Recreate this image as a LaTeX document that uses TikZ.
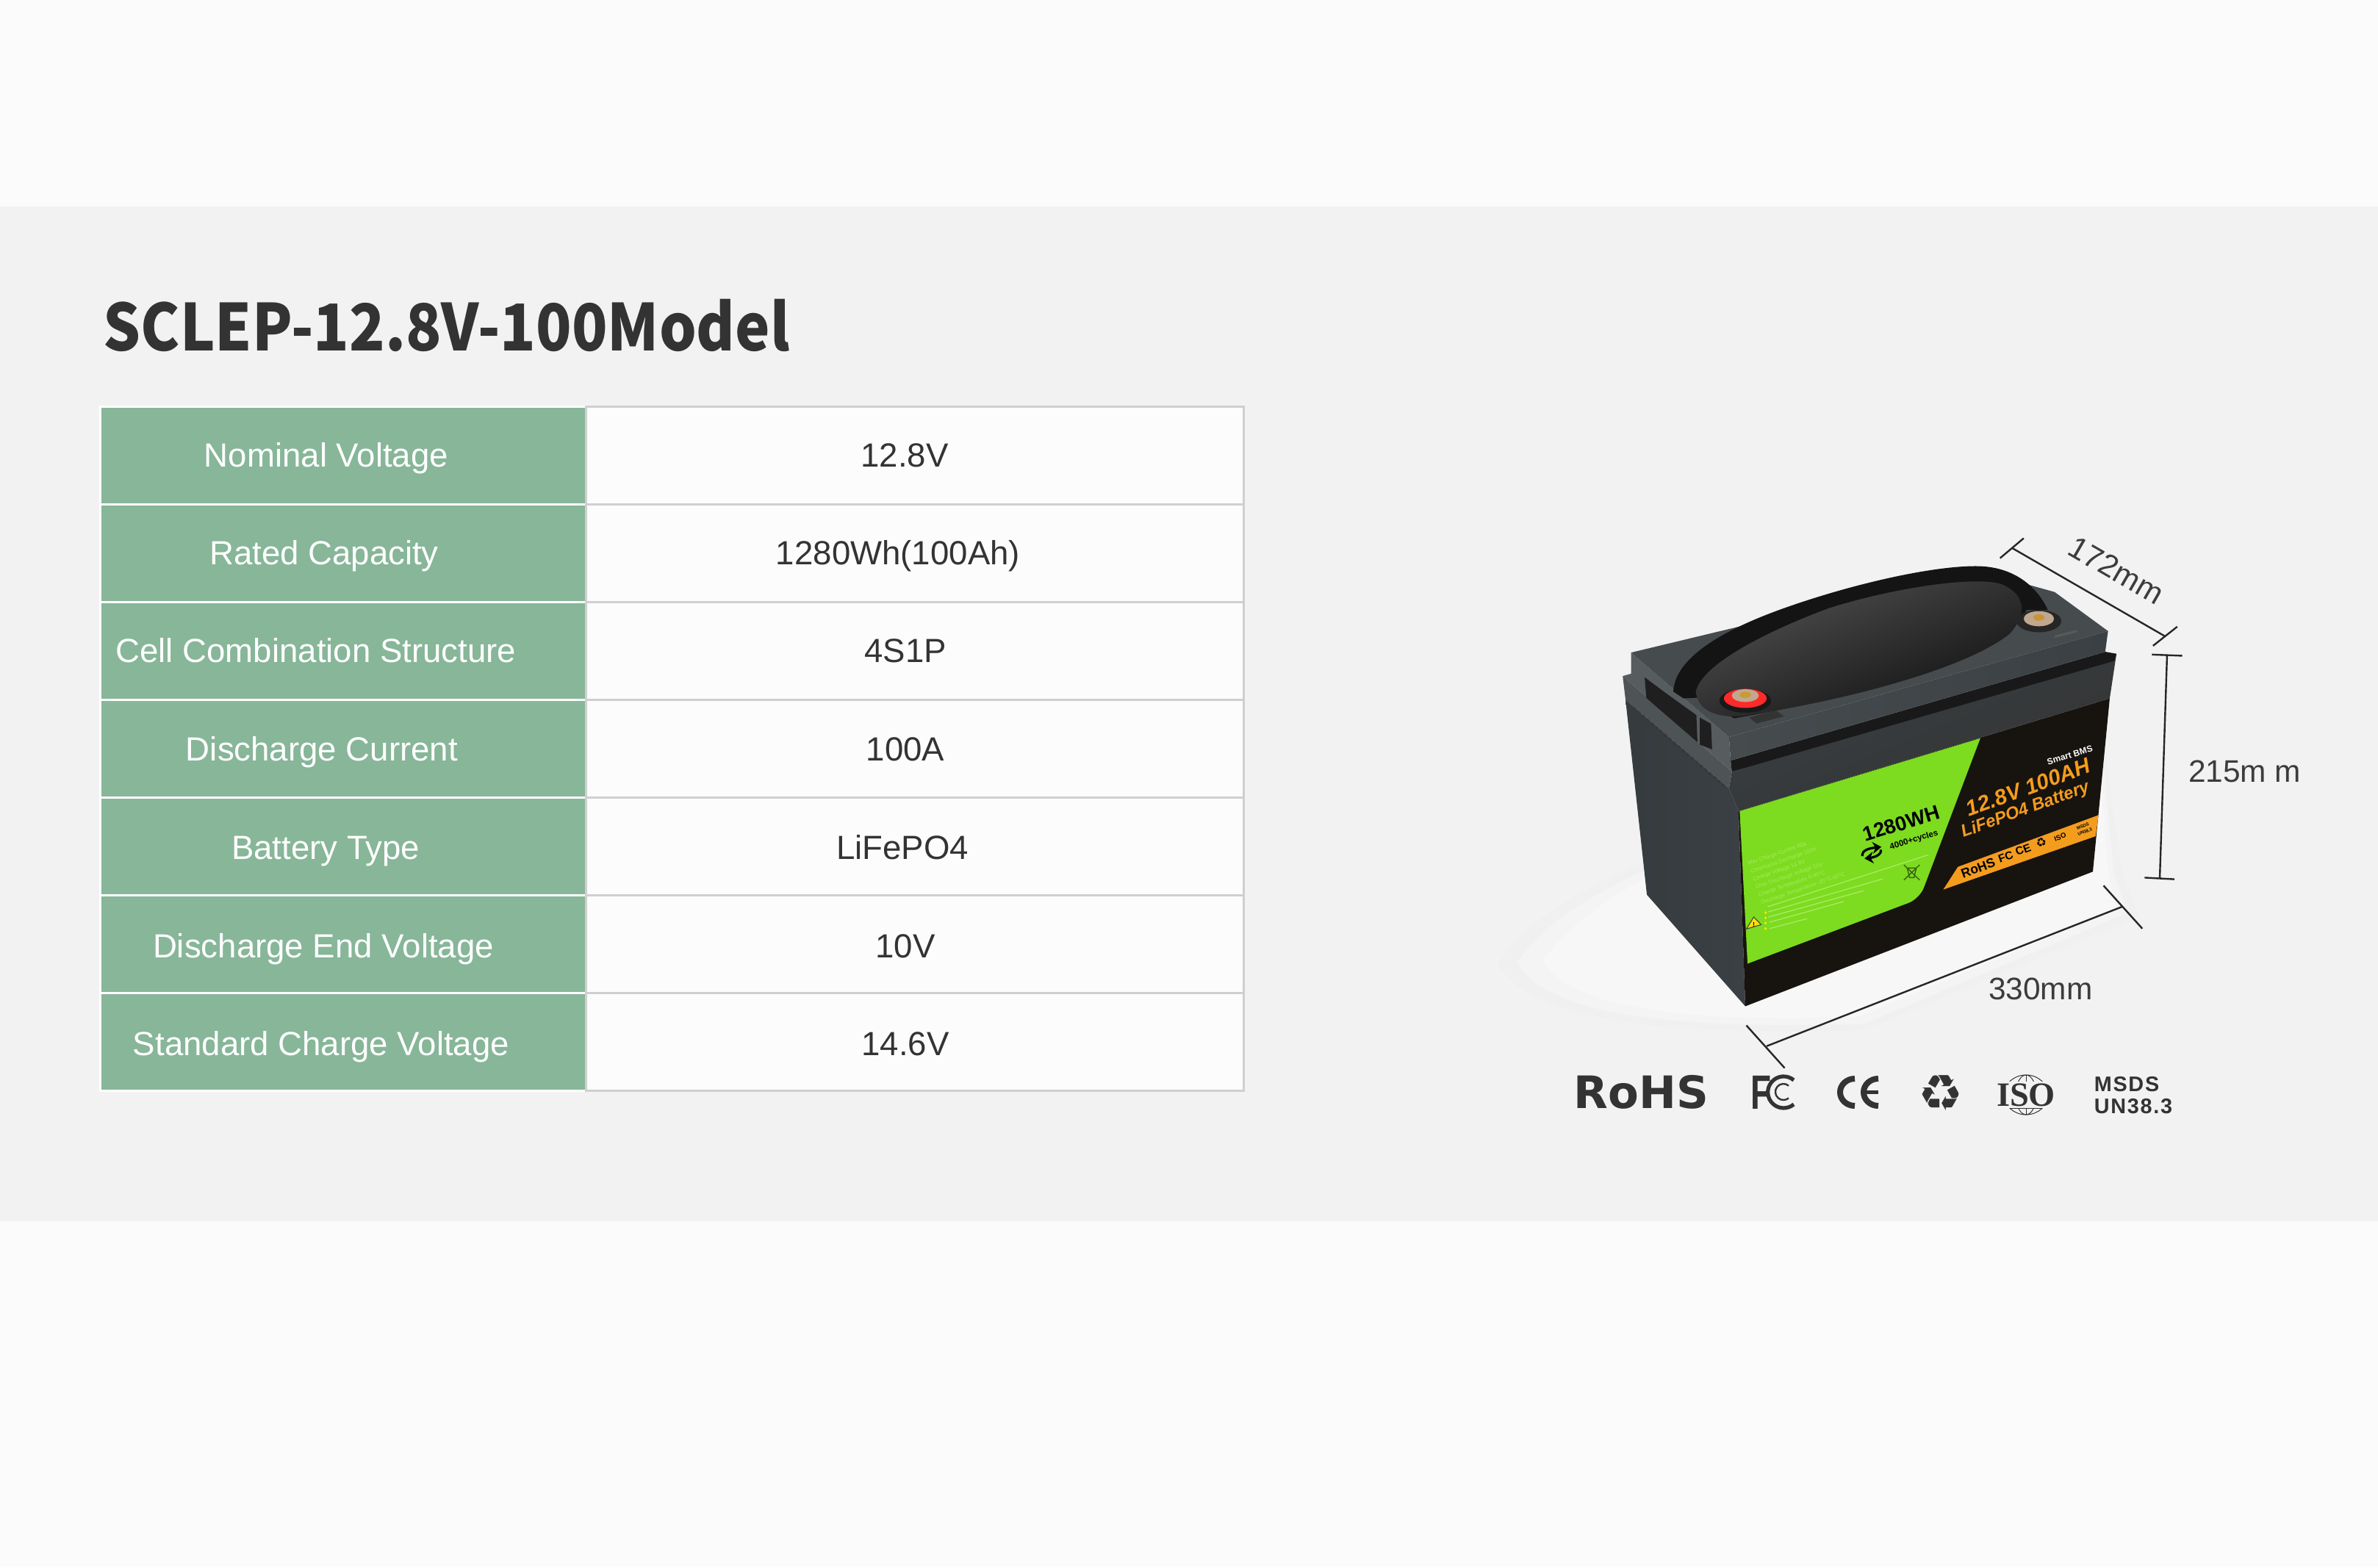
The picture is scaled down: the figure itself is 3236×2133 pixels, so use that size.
\documentclass[tikz,border=0pt]{standalone}
\usepackage{fontspec}
\setmainfont{Liberation Sans}
\newfontfamily\titlefont{Noto Sans CJK SC}
\newfontfamily\labelfont{DejaVu Sans}
\newfontfamily\isofont{Liberation Serif}
\newfontfamily\spacedfont[LetterSpace=6]{Liberation Sans}
\usetikzlibrary{calc,arrows.meta}
\definecolor{bandbg}{HTML}{F2F2F2}
\definecolor{pagebg}{HTML}{FBFBFB}
\definecolor{tablegreen}{HTML}{87B699}
\definecolor{gridgray}{HTML}{CFCFCF}
\definecolor{inkdark}{HTML}{333333}
\definecolor{inkmid}{HTML}{3C3C3C}
\definecolor{casegray}{HTML}{3A4043}
\definecolor{lidgray}{HTML}{464B4E}
\definecolor{sidegray}{HTML}{4E5356}
\definecolor{labelblack}{HTML}{17130F}
\definecolor{labelgreen}{HTML}{7DDB20}
\definecolor{paletext}{HTML}{A8EA5E}
\definecolor{stripeorange}{HTML}{F39C1E}
\tikzset{
 leftcell/.style={fill=tablegreen,draw=white,line width=.75pt,minimum width=165.25pt,minimum height=33.25pt,inner sep=0pt},
 rightcell/.style={fill=white!99!black,draw=gridgray,line width=.75pt,minimum width=223.75pt,minimum height=33.25pt,inner sep=0pt},
 celltext/.style={anchor=base,font=\fontsize{11.4pt}{13pt}\selectfont,inner sep=0pt},
 dimline/.style={draw=black!85,line width=.6pt},
 dimtext/.style={font=\fontsize{10.6pt}{12pt}\selectfont,text=inkmid,inner sep=0pt},
 oncase/.style={inner sep=0pt,rotate=20},
 onlabel/.style={inner sep=0pt,rotate=17},
 paleline/.style={draw=paletext,line width=.35pt},
}
\begin{document}
\begin{tikzpicture}[x=.25pt,y=-.25pt]
\useasboundingbox (0,0) rectangle (3236,2133);
\fill[pagebg] (0,0) rectangle (3236,2133);
\fill[bandbg] (0,281) rectangle (3236,1662);
% title
\node[anchor=base west,inner sep=0pt,text=inkdark,font=\titlefont\bfseries\fontsize{22pt}{24pt}\selectfont] (title) at (140,477) {\scalebox{.908}[1]{SCLEP-12.8V-100Model}};
% table
\foreach \i/\cy in {1/619.5,2/752.5,3/885.5,4/1018.5,5/1151.5,6/1284.5,7/1417.5}{
 \node[leftcell] (l\i) at (467,\cy) {};
 \node[rightcell] (r\i) at (1244.5,\cy) {};
}
\node[celltext,text=white] (lt1) at (444,635) {Nominal Voltage};
\node[celltext,text=white] (lt2) at (441,768) {Rated Capacity};
\node[celltext,text=white] (lt3) at (430,901) {Cell Combination Structure};
\node[celltext,text=white] (lt4) at (438,1035) {Discharge Current};
\node[celltext,text=white] (lt5) at (443,1169) {Battery Type};
\node[celltext,text=white] (lt6) at (440,1303) {Discharge End Voltage};
\node[celltext,text=white] (lt7) at (437,1436) {Standard Charge Voltage};
\node[celltext,text=inkdark] (rt1) at (1231,635) {12.8V};
\node[celltext,text=inkdark] (rt2) at (1222,768) {1280Wh(100Ah)};
\node[celltext,text=inkdark] (rt3) at (1232,901) {4S1P};
\node[celltext,text=inkdark] (rt4) at (1232,1035) {100A};
\node[celltext,text=inkdark] (rt5) at (1228,1169) {LiFePO4};
\node[celltext,text=inkdark] (rt6) at (1232,1303) {10V};
\node[celltext,text=inkdark] (rt7) at (1232,1436) {14.6V};
% battery, in a local frame
\begin{scope}[shift={(2000,700)},xscale=.7653,yscale=.5421]
% floor
\fill[white!94!black] (50,1130) .. controls (100,1010) and (220,930) .. (315,870) -- (1130,600) -- (1160,900) -- (1190,1010) -- (700,1295) .. controls (400,1305) and (120,1290) .. (50,1130) -- cycle;
\fill[white!95.5!black] (85,1125) .. controls (130,1020) and (230,950) .. (315,890) -- (1125,600) -- (1145,900) -- (1170,1000) -- (700,1280) .. controls (400,1290) and (140,1270) .. (85,1125) -- cycle;
\fill[white!97!black] (130,1120) .. controls (170,1040) and (240,970) .. (315,910) -- (1120,600) -- (1135,900) -- (1150,990) -- (690,1262) .. controls (420,1275) and (180,1250) .. (130,1120) -- cycle;
% left face
\shade[left color=casegray!92!black,right color=casegray] (277,465) -- (461,688) -- (478,745) -- (490,1235) -- (315,955) -- cycle;
\draw[black!78,line width=1pt,dash pattern=on 1pt off 1pt] (291,485) -- (453,682);
% front of case
\fill[labelblack] (478,745) -- (1138,462) -- (1108,897) -- (490,1235) -- cycle;
\shade[top color=casegray,bottom color=black!80,shading angle=23] (466,646) -- (1150,350) -- (1138,462) -- (478,745) -- (461,688) -- cycle;
% rim side and lid
\fill[sidegray] (272,406) -- (466,646) -- (461,688) -- (277,465) -- cycle;
\fill[casegray!85!white] (287,347) -- (461,559) -- (464,618) -- (466,646) -- (272,406) -- (287,400) -- cycle;
\fill[black!90] (464,618) -- (1130,345) -- (1150,350) -- (1146,368) -- (466,646) -- cycle;
\fill[lidgray] (287,347) -- (440,295) -- (900,140) -- (1040,195) -- (1135,293) -- (461,559) -- cycle;
\shade[left color=lidgray,right color=casegray] (461,559) -- (1135,293) -- (1130,345) -- (464,618) -- cycle;
% notches
\fill[black!88] (311,409) -- (346,446) -- (403,504) -- (405,572) -- (314,461) -- cycle;
\fill[black!88] (409,510) -- (429,526) -- (431,590) -- (409,578) -- cycle;
% strap and glossy cover
\fill[black!92] (362,445) .. controls (365,360) and (450,290) .. (560,235) .. controls (680,175) and (820,130) .. (900,130) .. controls (970,130) and (1010,185) .. (1028,240) -- (990,240) .. controls (960,340) and (760,440) .. (470,512) -- (410,460) -- (380,462) -- cycle;
\shade[top color=black!68,bottom color=black!94,shading angle=22] (402,445) .. controls (412,378) and (525,295) .. (640,235) .. controls (760,182) and (900,155) .. (945,175) .. controls (985,198) and (995,245) .. (960,300) .. controls (880,390) and (660,470) .. (480,507) .. controls (435,510) and (405,490) .. (402,445) -- cycle;
\fill[black!80] (497,510) -- (544,492) -- (559,507) -- (510,525) -- cycle;
\draw[black!65,line width=.8pt] (1040,307) -- (1080,293);
% terminals
\fill[black!90] (490,468) ellipse [x radius=46,y radius=30];
\fill[red!78!pink] (490,462) ellipse [x radius=38,y radius=24];
\fill[brown!45!white!85!black] (490,455) ellipse [x radius=24,y radius=16];
\fill[brown!80!yellow] (490,453) ellipse [x radius=10,y radius=8];
\fill[black!85] (1012,268) ellipse [x radius=40,y radius=28];
\fill[brown!45!white!85!black] (1012,262) ellipse [x radius=27,y radius=19];
\fill[brown!85!yellow] (1012,259) ellipse [x radius=10,y radius=8];
% label
\fill[labelgreen] (480,745) -- (908,562) [rounded corners=4pt] -- (800,965) [sharp corners] -- (494,1128) -- cycle;
\fill[stripeorange] (868,885) -- (1118,755) -- (1113,808) -- (842,942) -- cycle;
% warning triangle and pale fine print
\fill[yellow!85!orange,draw=black!70,line width=.3pt] (505,1011) -- (518,1030) -- (492,1041) -- cycle;
\node[inner sep=0pt,text=black,font=\bfseries\fontsize{2.2pt}{3pt}\selectfont] (warn) at (505,1030) {!};
\node[onlabel,rotate=2,text=paletext,align=left,font=\fontsize{1.9pt}{2.8pt}\selectfont] (fine) at (581,891) {Max Charge Current 80A\\Continuous Discharge 100A\\Charge Voltage 14.6V\\Over Discharge Voltage 10V\\Charge Temperature 0-45°C\\Discharge Temperature -20°C-60°C};
\draw[paleline] (530,985) -- (815,855);
\draw[paleline] (531,998) -- (735,915);
\draw[paleline] (531,1011) -- (700,945);
\draw[paleline] (533,1024) -- (665,972);
\draw[paleline] (533,1040) -- (600,1015);
\foreach \dy in {1000,1013,1026,1040}{\fill[yellow!90!orange] (526,\dy) ellipse [x radius=2.5,y radius=3.5];}
\draw[black!55!labelgreen,line width=.35pt] (778,888) -- (794,888) -- (790,912) -- (782,912) -- cycle (772,880) -- (800,918) (800,880) -- (772,918);
\node[onlabel,text=black,font=\bfseries\fontsize{6.9pt}{8pt}\selectfont] (wh) at (767,776) {1280WH};
\node[onlabel,text=black,font=\bfseries\fontsize{2.9pt}{4pt}\selectfont] (cyc) at (790,818) {4000+cycles};
\draw[black,line width=.8pt,-{Stealth[length=3pt,width=4pt]}] (698,858) .. controls (697,842) and (712,838) .. (732,835);
\draw[black,line width=.8pt,-{Stealth[length=3pt,width=4pt]}] (731,842) .. controls (733,857) and (715,862) .. (702,864);
\node[onlabel,text=white,font=\bfseries\fontsize{3pt}{4pt}\selectfont] (bms) at (1067,605) {Smart BMS};
\node[oncase,text=stripeorange,font=\bfseries\itshape\fontsize{7.4pt}{8pt}\selectfont] (v1) at (993,685) {12.8V 100AH};
\node[oncase,text=stripeorange,font=\bfseries\itshape\fontsize{5.9pt}{7pt}\selectfont] (v2) at (988,743) {LiFePO4 Battery};
\node[oncase,text=black,font=\bfseries\fontsize{4.4pt}{5pt}\selectfont] (s1) at (904,888) {RoHS};
\node[oncase,text=black,font=\bfseries\fontsize{3.8pt}{5pt}\selectfont] (s2) at (953,860) {FC};
\node[oncase,text=black,font=\bfseries\fontsize{3.8pt}{5pt}\selectfont] (s3) at (984,842) {CE};
\node[oncase,text=black,font=\labelfont\fontsize{4pt}{5pt}\selectfont] (s4) at (1016,825) {♻};
\node[oncase,text=black,font=\bfseries\fontsize{2.4pt}{3pt}\selectfont] (s5) at (1050,810) {ISO};
\node[oncase,text=black,font=\bfseries\fontsize{1.5pt}{2pt}\selectfont,align=center] (s6) at (1092,790) {MSDS\\UN38.3};
% dimensions
\coordinate (wa) at (965,85); \coordinate (wb) at (1235,305);
\coordinate (wa1) at (943,110); \coordinate (wa2) at (985,60);
\coordinate (wb1) at (1215,330); \coordinate (wb2) at (1258,282);
\draw[dimline] (wa) -- (wb); \draw[dimline] (wa1) -- (wa2); \draw[dimline] (wb1) -- (wb2);
\coordinate (ha) at (1240,352); \coordinate (hb) at (1227,913);
\coordinate (ha1) at (1213,352); \coordinate (ha2) at (1267,355);
\coordinate (hb1) at (1200,912); \coordinate (hb2) at (1253,916);
\draw[dimline] (ha) -- (hb); \draw[dimline] (ha1) -- (ha2); \draw[dimline] (hb1) -- (hb2);
\coordinate (la) at (528,1335); \coordinate (lb) at (1160,985);
\coordinate (la1) at (492,1283); \coordinate (la2) at (560,1390);
\coordinate (lb1) at (1127,932); \coordinate (lb2) at (1196,1040);
\draw[dimline] (la) -- (lb); \draw[dimline] (la1) -- (la2); \draw[dimline] (lb1) -- (lb2);
\node[dimtext,rotate=-30] (d172) at (1150,140) {172mm};
\node[dimtext] (d215) at (1378,645) {215m m};
\node[dimtext] (d330) at (1015,1192) {330mm};
\end{scope}
% logos
\node[anchor=base west,inner sep=0pt,text=inkdark,font=\labelfont\bfseries\fontsize{15.2pt}{16pt}\selectfont] (rohs) at (2141,1508) {RoHS};
\node[anchor=base west,inner sep=0pt,text=inkdark,font=\bfseries\fontsize{16.4pt}{17pt}\selectfont] (fcf) at (2382,1509) {\scalebox{.7}[1]{F}};
\draw[inkdark,line width=1.3pt] (2441,1470) arc[start angle=-50,end angle=-310,radius=21.5];
\draw[inkdark,line width=.6pt] (2434,1477.6) arc[start angle=-50,end angle=-310,radius=11];
\draw[inkdark,line width=2pt] (2524,1468) arc[start angle=-90,end angle=-270,x radius=20,y radius=18.5];
\draw[inkdark,line width=2pt] (2556,1468) arc[start angle=-90,end angle=-270,x radius=20,y radius=18.5];
\draw[inkdark,line width=1.2pt] (2538,1486.5) -- (2556,1486.5);
\node[inner sep=0pt,text=inkdark,font=\labelfont\fontsize{17pt}{18pt}\selectfont] (recy) at (2641,1488) {♻};
\draw[inkdark,line width=.25pt] (2757,1490) ellipse [x radius=30,y radius=27];
\draw[inkdark,line width=.25pt] (2757,1490) ellipse [x radius=14,y radius=27];
\draw[inkdark,line width=.25pt] (2757,1463) -- (2757,1517);
\draw[inkdark,line width=.25pt] (2735,1472) -- (2779,1472) (2728,1482) -- (2786,1482) (2728,1498) -- (2786,1498) (2735,1508) -- (2779,1508);
\node[inner sep=.5pt,fill=bandbg,text=inkdark,font=\isofont\bfseries\fontsize{11.6pt}{12pt}\selectfont] (iso) at (2757,1490) {ISO};
\node[anchor=base west,inner sep=0pt,text=inkdark,font=\spacedfont\bfseries\fontsize{7.2pt}{8pt}\selectfont] (msds) at (2849,1485) {MSDS};
\node[anchor=base west,inner sep=0pt,text=inkdark,font=\spacedfont\bfseries\fontsize{7.2pt}{8pt}\selectfont] (un) at (2849,1515) {UN38.3};
\end{tikzpicture}
\end{document}
